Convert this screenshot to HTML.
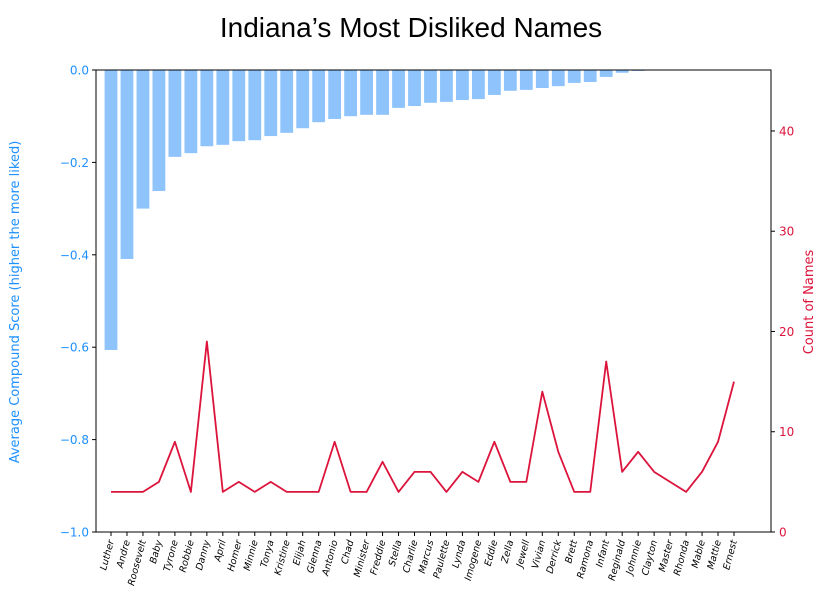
<!DOCTYPE html>
<html><head><meta charset="utf-8"><style>
body{margin:0;background:#fff;}
svg text{font-family:"DejaVu Sans","Liberation Sans",sans-serif;}
</style></head><body>
<svg id="chart" width="827" height="606" xmlns="http://www.w3.org/2000/svg">
<text x="411" y="37" text-anchor="middle" font-size="28" fill="#000" style="font-family:'Liberation Sans',sans-serif">Indiana’s Most Disliked Names</text>
<g id="bars"></g>
<g id="line"></g>
<rect x="96" y="70" width="675" height="462" fill="none" stroke="#000" stroke-width="1"/>
<g id="axes"></g>
<text transform="translate(19,302) rotate(-90)" text-anchor="middle" font-size="13" fill="#1e90ff">Average Compound Score (higher the more liked)</text>
<text transform="translate(813,302) rotate(-90)" text-anchor="middle" font-size="13" fill="#dc143c">Count of Names</text>
</svg>
<script>
const names=["Luther","Andre","Roosevelt","Baby","Tyrone","Robbie","Danny","April","Homer","Minnie","Tonya","Kristine","Elijah","Glenna","Antonio","Chad","Minister","Freddie","Stella","Charlie","Marcus","Paulette","Lynda","Imogene","Eddie","Zella","Jewell","Vivian","Derrick","Brett","Ramona","Infant","Reginald","Johnnie","Clayton","Master","Rhonda","Mable","Mattie","Ernest"];
const scores=[-0.606,-0.409,-0.30,-0.262,-0.188,-0.18,-0.165,-0.162,-0.154,-0.152,-0.143,-0.136,-0.126,-0.113,-0.106,-0.1,-0.097,-0.097,-0.082,-0.078,-0.071,-0.069,-0.065,-0.063,-0.054,-0.045,-0.043,-0.039,-0.035,-0.028,-0.026,-0.015,-0.006,-0.002,-0.001,-0.001,0,0,0,0];
const counts=[4,4,4,5,9,4,19,4,5,4,5,4,4,4,9,4,4,7,4,6,6,4,6,5,9,5,5,14,8,4,4,17,6,8,6,5,4,6,9,15];
const leftTicks=[0,-0.2,-0.4,-0.6,-0.8,-1.0];
const leftLabels=["0.0","\u22120.2","\u22120.4","\u22120.6","\u22120.8","\u22121.0"];
const rightTicks=[0,10,20,30,40];
const NS="http://www.w3.org/2000/svg";
const X0=96,X1=771,Y0=70,Y1=532;
const first=111,step=(734-111)/39;
const xPos=i=>first+i*step;
const yL=v=>Y0+(0-v)/1.0*(Y1-Y0);
const yR=v=>Y1-v/46.08*(Y1-Y0);
function mk(tag,attrs,parent){const e=document.createElementNS(NS,tag);for(const k in attrs)e.setAttribute(k,attrs[k]);parent.appendChild(e);return e;}
const bars=document.getElementById('bars'),line=document.getElementById('line'),axes=document.getElementById('axes');
scores.forEach((v,i)=>{
  const y=yL(v);
  const r=mk('rect',{x:xPos(i)-6.4,y:Y0,width:12.8,height:Math.max(0,y-Y0),fill:'#8ec4fb'},bars);
  
  
});
const pts=counts.map((c,i)=>xPos(i)+','+yR(c)).join(' ');
const pl=mk('polyline',{points:pts,fill:'none',stroke:'#dc143c','stroke-width':1.8,'stroke-linejoin':'round'},line);


leftTicks.forEach((t,i)=>{
  const y=yL(t);
  const tk=mk('line',{x1:X0-4,x2:X0,y1:y,y2:y,stroke:'#000'},axes);
  
  
  const tx=mk('text',{x:X0-7,y:y+4.5,'text-anchor':'end','font-size':12,fill:'#1e90ff'},axes);
  tx.textContent=leftLabels[i];
  
  
});
rightTicks.forEach(t=>{
  const y=yR(t);
  const tk=mk('line',{x1:X1,x2:X1+4,y1:y,y2:y,stroke:'#000'},axes);
  
  
  const tx=mk('text',{x:X1+8,y:y+4.5,'font-size':12,fill:'#dc143c'},axes);
  tx.textContent=String(t);
  
  
});
names.forEach((n,i)=>{
  const x=xPos(i);
  const tk=mk('line',{x1:x,x2:x,y1:Y1,y2:Y1+4,stroke:'#000'},axes);
  
  
  const tx=mk('text',{transform:'translate('+(x+3)+','+(Y1+9)+') rotate(-75)','text-anchor':'end','font-size':9.5,'font-style':'italic',fill:'#000'},axes);
  tx.textContent=n;
  
  
});
</script>
</body></html>
